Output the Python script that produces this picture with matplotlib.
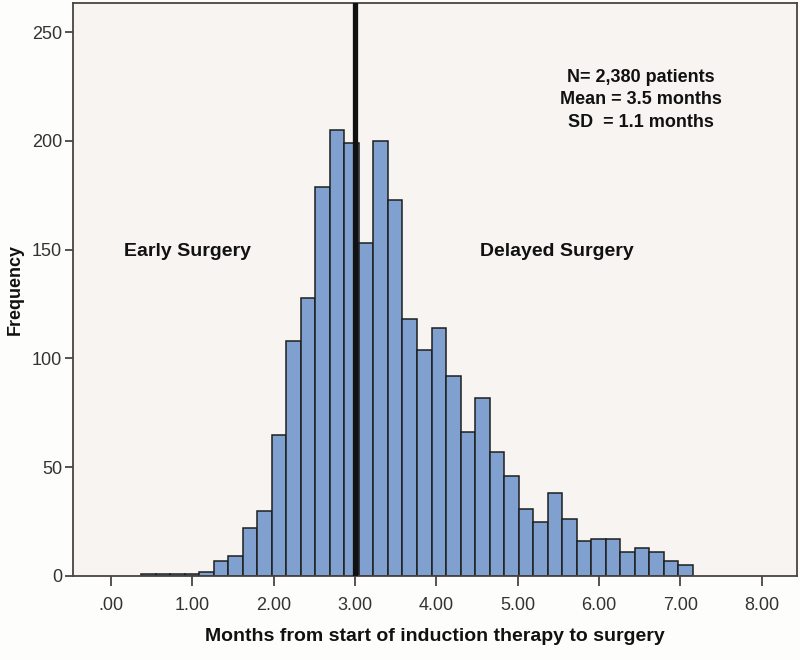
import matplotlib
matplotlib.use('Agg')
import matplotlib.pyplot as plt
import numpy as np

# Histogram data (months from induction start to surgery)
bin_start = 0.37
bin_width = 0.1785
counts = [1, 1, 1, 1,
          2, 7, 9, 22, 30, 65, 108, 128, 179, 205,
          199, 153, 200, 173, 118, 104, 114, 92, 66, 82,
          57, 46, 31, 25, 38, 26, 16, 17, 17, 11,
          13, 11, 7, 5]
cutoff = 3.0
x_ticks = [0, 1, 2, 3, 4, 5, 6, 7, 8]
x_tick_labels = ['.00', '1.00', '2.00', '3.00', '4.00', '5.00', '6.00', '7.00', '8.00']
y_ticks = [0, 50, 100, 150, 200, 250]
stats_text = "N= 2,380 patients\nMean = 3.5 months\nSD  = 1.1 months"

plt.rcParams['font.family'] = ['Liberation Sans', 'DejaVu Sans']

fig = plt.figure(figsize=(8, 6.6), dpi=100, facecolor='#fdfdfb')
ax = fig.add_axes([0.0917, 0.1273, 0.9041, 0.8682])
ax.set_facecolor('#f7f4f2')

lefts = bin_start + bin_width * np.arange(len(counts))
ax.bar(lefts, counts, width=bin_width, align='edge',
       color='#80a1d0', edgecolor='#1e1e1e', linewidth=1.1, zorder=2)

ax.axvline(cutoff, color='#111111', linewidth=3.8, zorder=3)

ax.set_xlim(-0.464, 8.43)
ax.set_ylim(0, 263.4)

ax.set_xticks(x_ticks)
ax.set_xticklabels(x_tick_labels)
ax.set_yticks(y_ticks)

for s in ax.spines.values():
    s.set_color('#4a4440')
    s.set_linewidth(1.3)

ax.tick_params(axis='both', direction='out', colors='#4a4440',
               labelcolor='#333333', labelsize=13, width=1.3)
ax.tick_params(axis='x', length=7, pad=8)
ax.tick_params(axis='y', length=6, pad=2)

ax.set_xlabel('Months from start of induction therapy to surgery',
              fontsize=14, fontweight='bold', color='#111111', labelpad=10)
ax.set_ylabel('Frequency', fontsize=13, fontweight='bold',
              color='#111111', labelpad=6)

ax.text(0.785, 0.831, stats_text, transform=ax.transAxes, ha='center',
        va='center', fontsize=13, fontweight='bold', color='#111111',
        linespacing=1.42)
ax.text(0.158, 0.567, 'Early Surgery', transform=ax.transAxes, ha='center',
        va='center', fontsize=14, fontweight='bold', color='#111111')
ax.text(0.669, 0.567, 'Delayed Surgery', transform=ax.transAxes, ha='center',
        va='center', fontsize=14, fontweight='bold', color='#111111')

fig.savefig('out.png', dpi=100, facecolor=fig.get_facecolor())
